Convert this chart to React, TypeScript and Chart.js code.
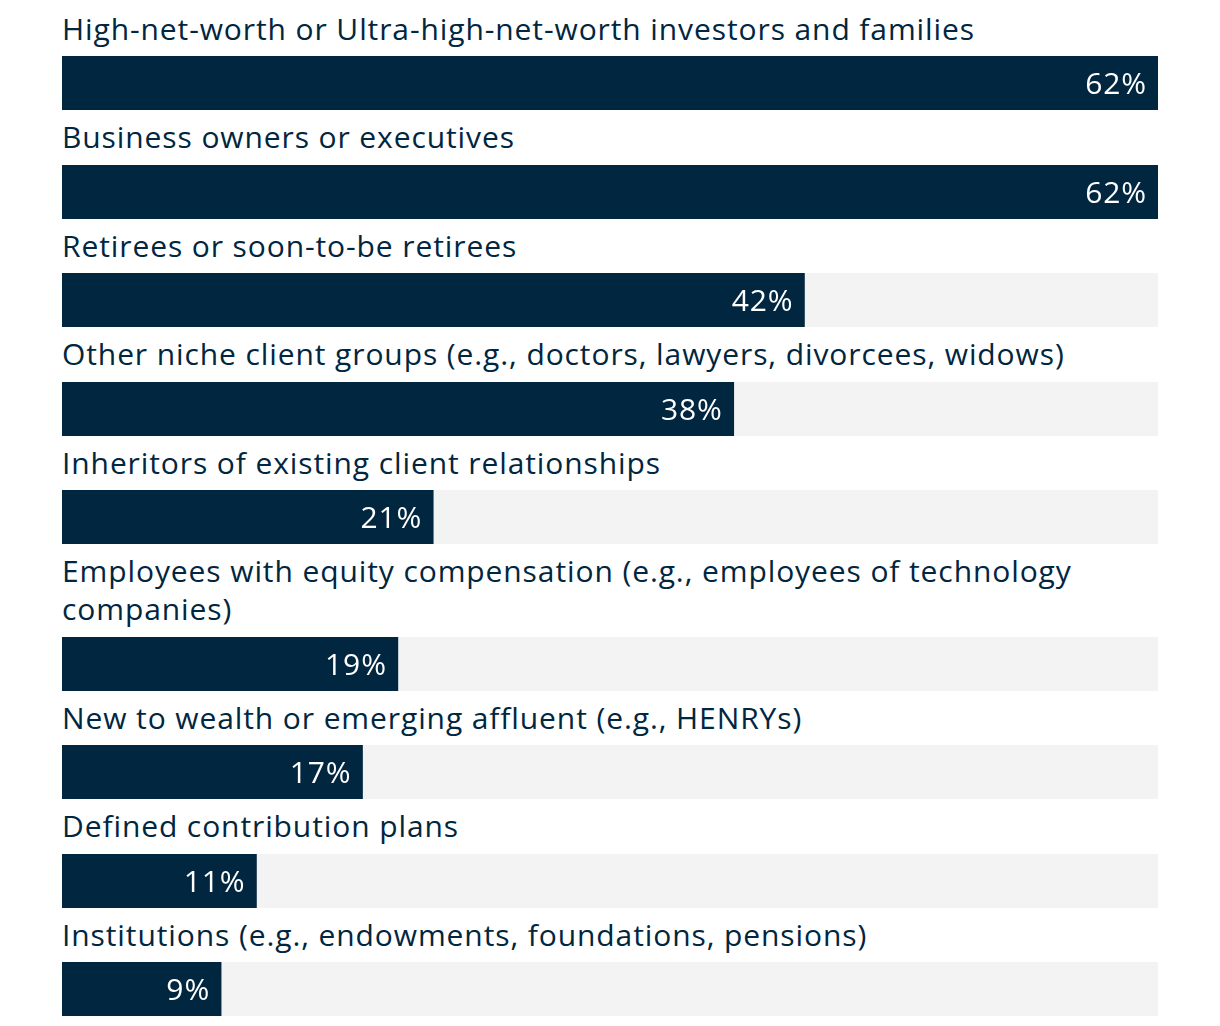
import React, { useEffect, useRef } from "react";
import { Chart, registerables } from "chart.js";

Chart.register(...registerables);

const categories: string[] = [
  "High-net-worth or Ultra-high-net-worth investors and families",
  "Business owners or executives",
  "Retirees or soon-to-be retirees",
  "Other niche client groups (e.g., doctors, lawyers, divorcees, widows)",
  "Inheritors of existing client relationships",
  "Employees with equity compensation (e.g., employees of technology companies)",
  "New to wealth or emerging affluent (e.g., HENRYs)",
  "Defined contribution plans",
  "Institutions (e.g., endowments, foundations, pensions)",
];

const values: number[] = [62, 62, 42, 38, 21, 19, 17, 11, 9];

const axisMax = Math.max(...values);

const NAVY = "#012640";
const TRACK = "#f3f3f3";
const FONT = "'Open Sans', 'Noto Sans', sans-serif";

const trackPlugin = {
  id: "track",
  beforeDatasetsDraw(chart: any) {
    const { ctx, chartArea } = chart;
    ctx.save();
    ctx.fillStyle = TRACK;
    ctx.fillRect(chartArea.left, chartArea.top, chartArea.right - chartArea.left, chartArea.bottom - chartArea.top);
    ctx.restore();
  },
};

const valueLabelPlugin = {
  id: "valueLabel",
  afterDatasetsDraw(chart: any) {
    const { ctx } = chart;
    const meta = chart.getDatasetMeta(0);
    const ds = chart.data.datasets[0];
    meta.data.forEach((el: any, i: number) => {
      const v = ds.data[i];
      ctx.save();
      ctx.font = `400 30px ${FONT}`;
      try {
        (ctx as any).letterSpacing = "0.9px";
      } catch (e) {}
      ctx.fillStyle = "#ffffff";
      ctx.textAlign = "right";
      ctx.textBaseline = "alphabetic";
      ctx.fillText(`${v}%`, el.x - 11, el.y + 10.5);
      ctx.restore();
    });
  },
};

function BarRow({ label, value }: { label: string; value: number }) {
  const ref = useRef<HTMLCanvasElement | null>(null);
  useEffect(() => {
    if (!ref.current) return;
    const chart = new Chart(ref.current, {
      type: "bar",
      data: {
        labels: [label],
        datasets: [
          {
            data: [value],
            backgroundColor: NAVY,
            borderWidth: 0,
            barPercentage: 1,
            categoryPercentage: 1,
          },
        ],
      },
      options: {
        indexAxis: "y",
        animation: false,
        responsive: true,
        maintainAspectRatio: false,
        layout: { padding: 0 },
        plugins: { legend: { display: false }, tooltip: { enabled: false }, title: { display: false } },
        scales: {
          x: { min: 0, max: axisMax, display: false },
          y: { display: false },
        },
      },
      plugins: [trackPlugin, valueLabelPlugin],
    });
    return () => chart.destroy();
  }, [label, value]);

  return (
    <div>
      <div
        style={{
          fontFamily: FONT,
          fontSize: 30,
          lineHeight: "38px",
          letterSpacing: "0.9px",
          color: NAVY,
          marginBottom: 8.5,
        }}
      >
        {label}
      </div>
      <div style={{ position: "relative", height: 54, width: "100%" }}>
        <canvas ref={ref} />
      </div>
    </div>
  );
}

export default function App() {
  return (
    <div style={{ padding: "1.5px 54px 0 54px", overflow: "hidden" }}>
      {categories.map((c, i) => (
        <div key={c} style={{ marginBottom: i < categories.length - 1 ? 8 : 0 }}>
          <BarRow label={c} value={values[i]} />
        </div>
      ))}
    </div>
  );
}
